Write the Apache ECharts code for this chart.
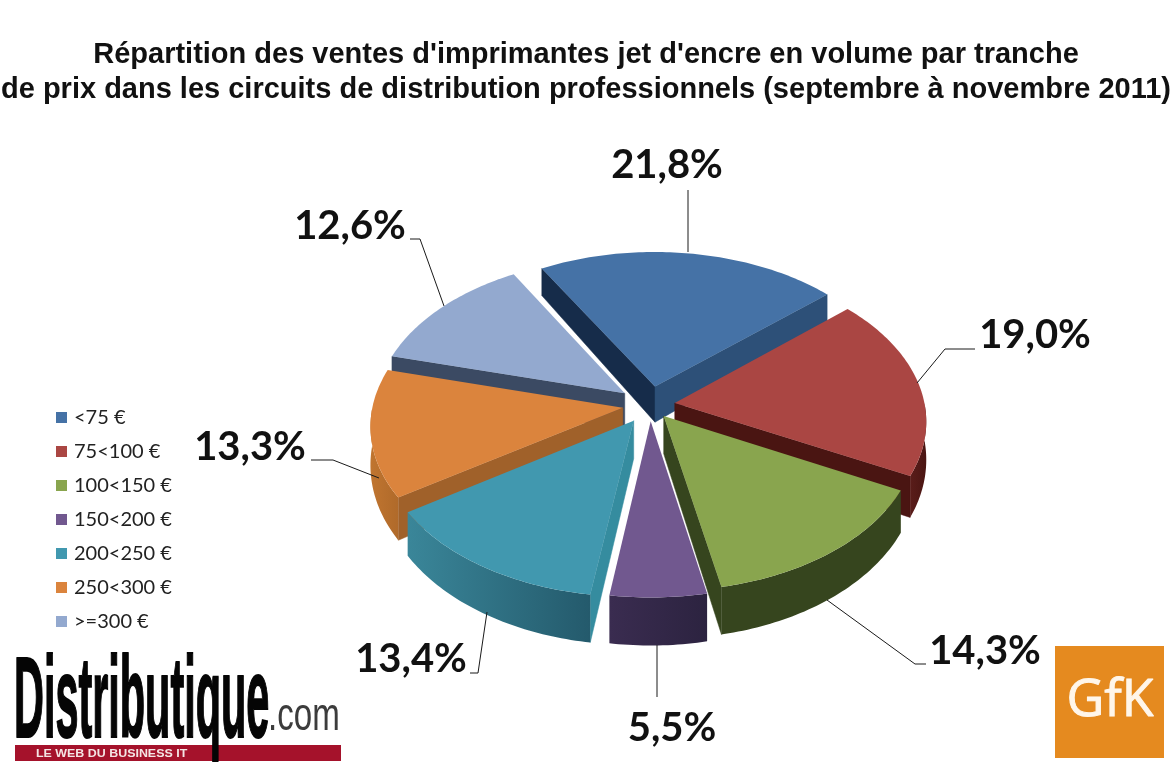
<!DOCTYPE html>
<html><head><meta charset="utf-8">
<style>html,body{margin:0;padding:0;background:#fff}#c{width:1175px;height:764px}</style>
<script src="https://cdn.jsdelivr.net/npm/echarts@6/dist/echarts.min.js"></script>
</head><body><div id="c"></div>
<script>
const titleLines = ["Répartition des ventes d'imprimantes jet d'encre en volume par tranche", "de prix dans les circuits de distribution professionnels (septembre à novembre 2011)"];
const categories = ['<75 €', '75<100 €', '100<150 €', '150<200 €', '200<250 €', '250<300 €', '>=300 €'];
const shares = [21.8, 19.0, 14.3, 5.5, 13.4, 13.3, 12.6];

const topColors = ['#4572a6', '#aa4643', '#89a54e', '#71588f', '#4198af', '#db843d', '#93a9cf'];
const startWall = ['#162c4a', '#4a1512', '#36451e', '#372a4c', '#358c9f', '#a0612a', '#3b4a63'];
const endWall = ['#2d5078', '#4a1512', '#36451e', '#372a4c', '#358c9f', '#a0612a', '#3b4a63'];
const outerA = ['#2d5078', '#5a1d1a', '#36451e', '#3a2c50', '#3a8699', '#c07530', '#3b4a63'];
const outerB = ['#2d5078', '#4a1512', '#36451e', '#2c2340', '#245a6c', '#b06a2a', '#3b4a63'];
const explode = [0.125, 0.10, 0.09, 0.105, 0.12, 0.11, 0.128];
const paintOrder = [1, 3, 5, 7, 6, 4, 2];
const labelAnchor = [[667, 165], [1035, 335], [985, 651], [672, 728], [411, 659], [250, 447], [350, 226]];
const leaders = [
  [[688, 190], [688, 252]],
  [[975, 349], [945, 349], [917, 383]],
  [[926, 664], [915, 664], [827, 600]],
  [[657, 697], [657, 645]],
  [[470, 673], [478, 673], [487, 612]],
  [[311, 460], [333, 460], [379, 478]],
  [[410, 239], [420, 239], [444, 306]]
];

const CX = 650, CY = 405, RX = 250, RY = 153, K = 0.11, START = -30;
const rad = d => d * Math.PI / 180;
const total = shares.reduce((a, b) => a + b, 0);

function project(u, v) {
  const p = 1 / (1 + K * v);
  return [CX + u * p * RX, CY - v * p * RY, 37 - 10 * v];
}
function sliceRange(i) {
  let s = START;
  for (let j = 0; j < i; j++) s += shares[j] / total * 360;
  return [s, s + shares[i] / total * 360];
}
function renderSlice(i, api) {
  const value = api.value(0);
  const [a0, a1] = sliceRange(i);
  const mid = rad((a0 + a1) / 2);
  const ox = explode[i] * Math.sin(mid), oy = explode[i] * Math.cos(mid);
  const pt = d => project(ox + Math.sin(rad(d)), oy + Math.cos(rad(d)));
  const tip = project(ox, oy);
  const top = [[tip[0], tip[1]]];
  const rim = [];
  for (let d = a0; d < a1; d += 1) rim.push(pt(d));
  rim.push(pt(a1));
  rim.forEach(q => top.push([q[0], q[1]]));
  const kids = [];
  const quad = (a, b, fill) => kids.push({
    type: 'polygon', silent: true,
    shape: { points: [[a[0], a[1]], [b[0], b[1]], [b[0], b[1] + b[2]], [a[0], a[1] + a[2]]] },
    style: { fill, stroke: fill, lineWidth: 0.5 }
  });
  const first = rim[0], last = rim[rim.length - 1];
  if (first[0] < tip[0]) quad(tip, first, startWall[i]);
  if (last[0] > tip[0]) quad(last, tip, endWall[i]);
  const lo = Math.max(a0, 90), hi = Math.min(a1, 270);
  const lo2 = Math.max(a0 + 360, 90), hi2 = Math.min(a1 + 360, 270);
  const [wa, wb] = hi > lo ? [lo, hi] : [lo2, hi2];
  if (wb > wa) {
    const up = [], down = [];
    for (let d = wa; d <= wb; d += 1) {
      const q = pt(d); up.push([q[0], q[1]]); down.unshift([q[0], q[1] + q[2]]);
    }
    const q = pt(wb); up.push([q[0], q[1]]); down.unshift([q[0], q[1] + q[2]]);
    kids.push({
      type: 'polygon', silent: true,
      shape: { points: up.concat(down) },
      style: {
        fill: new echarts.graphic.LinearGradient(0, 0, 1, 0, [
          { offset: 0, color: outerA[i] }, { offset: 1, color: outerB[i] }
        ])
      }
    });
  }
  kids.push({ type: 'polygon', silent: true, shape: { points: top }, style: { fill: topColors[i] } });
  kids.push({
    type: 'polyline', silent: true, shape: { points: leaders[i] },
    style: { stroke: '#1a1a1a', fill: null, lineWidth: 1 }
  });
  kids.push({
    type: 'text', silent: true,
    style: {
      text: value.toFixed(1).replace('.', ',') + '%',
      x: labelAnchor[i][0], y: labelAnchor[i][1],
      align: 'center', verticalAlign: 'middle',
      font: 'bold 40px Lato, "Open Sans", sans-serif', fill: '#111'
    }
  });
  return { type: 'group', children: kids };
}

const chart = echarts.init(document.getElementById('c'), null, { renderer: 'canvas' });
chart.setOption({
  animation: false,
  backgroundColor: '#fff',
  title: {
    text: titleLines.join('\n'), left: 581, top: 32, textAlign: 'center',
    textStyle: { fontFamily: '"Liberation Sans", Arial, sans-serif', fontWeight: 'bold', fontSize: 29, lineHeight: 35, color: '#111' }
  },
  legend: {
    data: categories, left: 51, top: 402, orient: 'vertical',
    icon: 'rect', itemWidth: 11, itemHeight: 11, itemGap: 13, selectedMode: false,
    textStyle: { fontFamily: 'Lato, "Open Sans", sans-serif', fontSize: 20, color: '#222', lineHeight: 21, padding: [0, 0, 0, 2] }
  },
  series: categories.map((name, i) => ({
    type: 'custom', name, coordinateSystem: 'none', z: paintOrder[i] + 2,
    itemStyle: { color: topColors[i] }, silent: true,
    data: [[shares[i]]], encode: { value: 0 },
    renderItem: (params, api) => renderSlice(i, api)
  })),
  graphic: [
    { type: 'rect', silent: true, shape: { x: 15, y: 745, width: 326, height: 16 }, style: { fill: '#a5122b' } },
    { type: 'text', silent: true, x: 36, y: 748, style: { text: 'LE WEB DU BUSINESS IT', fill: '#f4e4e4', font: 'bold 11px "Liberation Sans", sans-serif' }, scaleX: 1.13 },
    { type: 'text', silent: true, x: 14, y: 648, scaleX: 0.36, style: { text: 'Distributique', fill: '#050505', stroke: '#050505', lineWidth: 2, font: 'bold 115px "Liberation Sans", sans-serif' } },
    { type: 'text', silent: true, x: 268, y: 694, scaleX: 0.72, style: { text: '.com', fill: '#3c3c3c', font: '46px "Liberation Sans", sans-serif' } },
    { type: 'rect', silent: true, shape: { x: 1055, y: 646, width: 109, height: 112 }, style: { fill: '#e58a1f' } },
    { type: 'text', silent: true, x: 1110, y: 701, style: { text: 'GfK', fill: '#fff6ea', stroke: '#fff6ea', lineWidth: 1, font: '52px "Open Sans", sans-serif', align: 'center', verticalAlign: 'middle' } }
  ]
});
</script></body></html>
